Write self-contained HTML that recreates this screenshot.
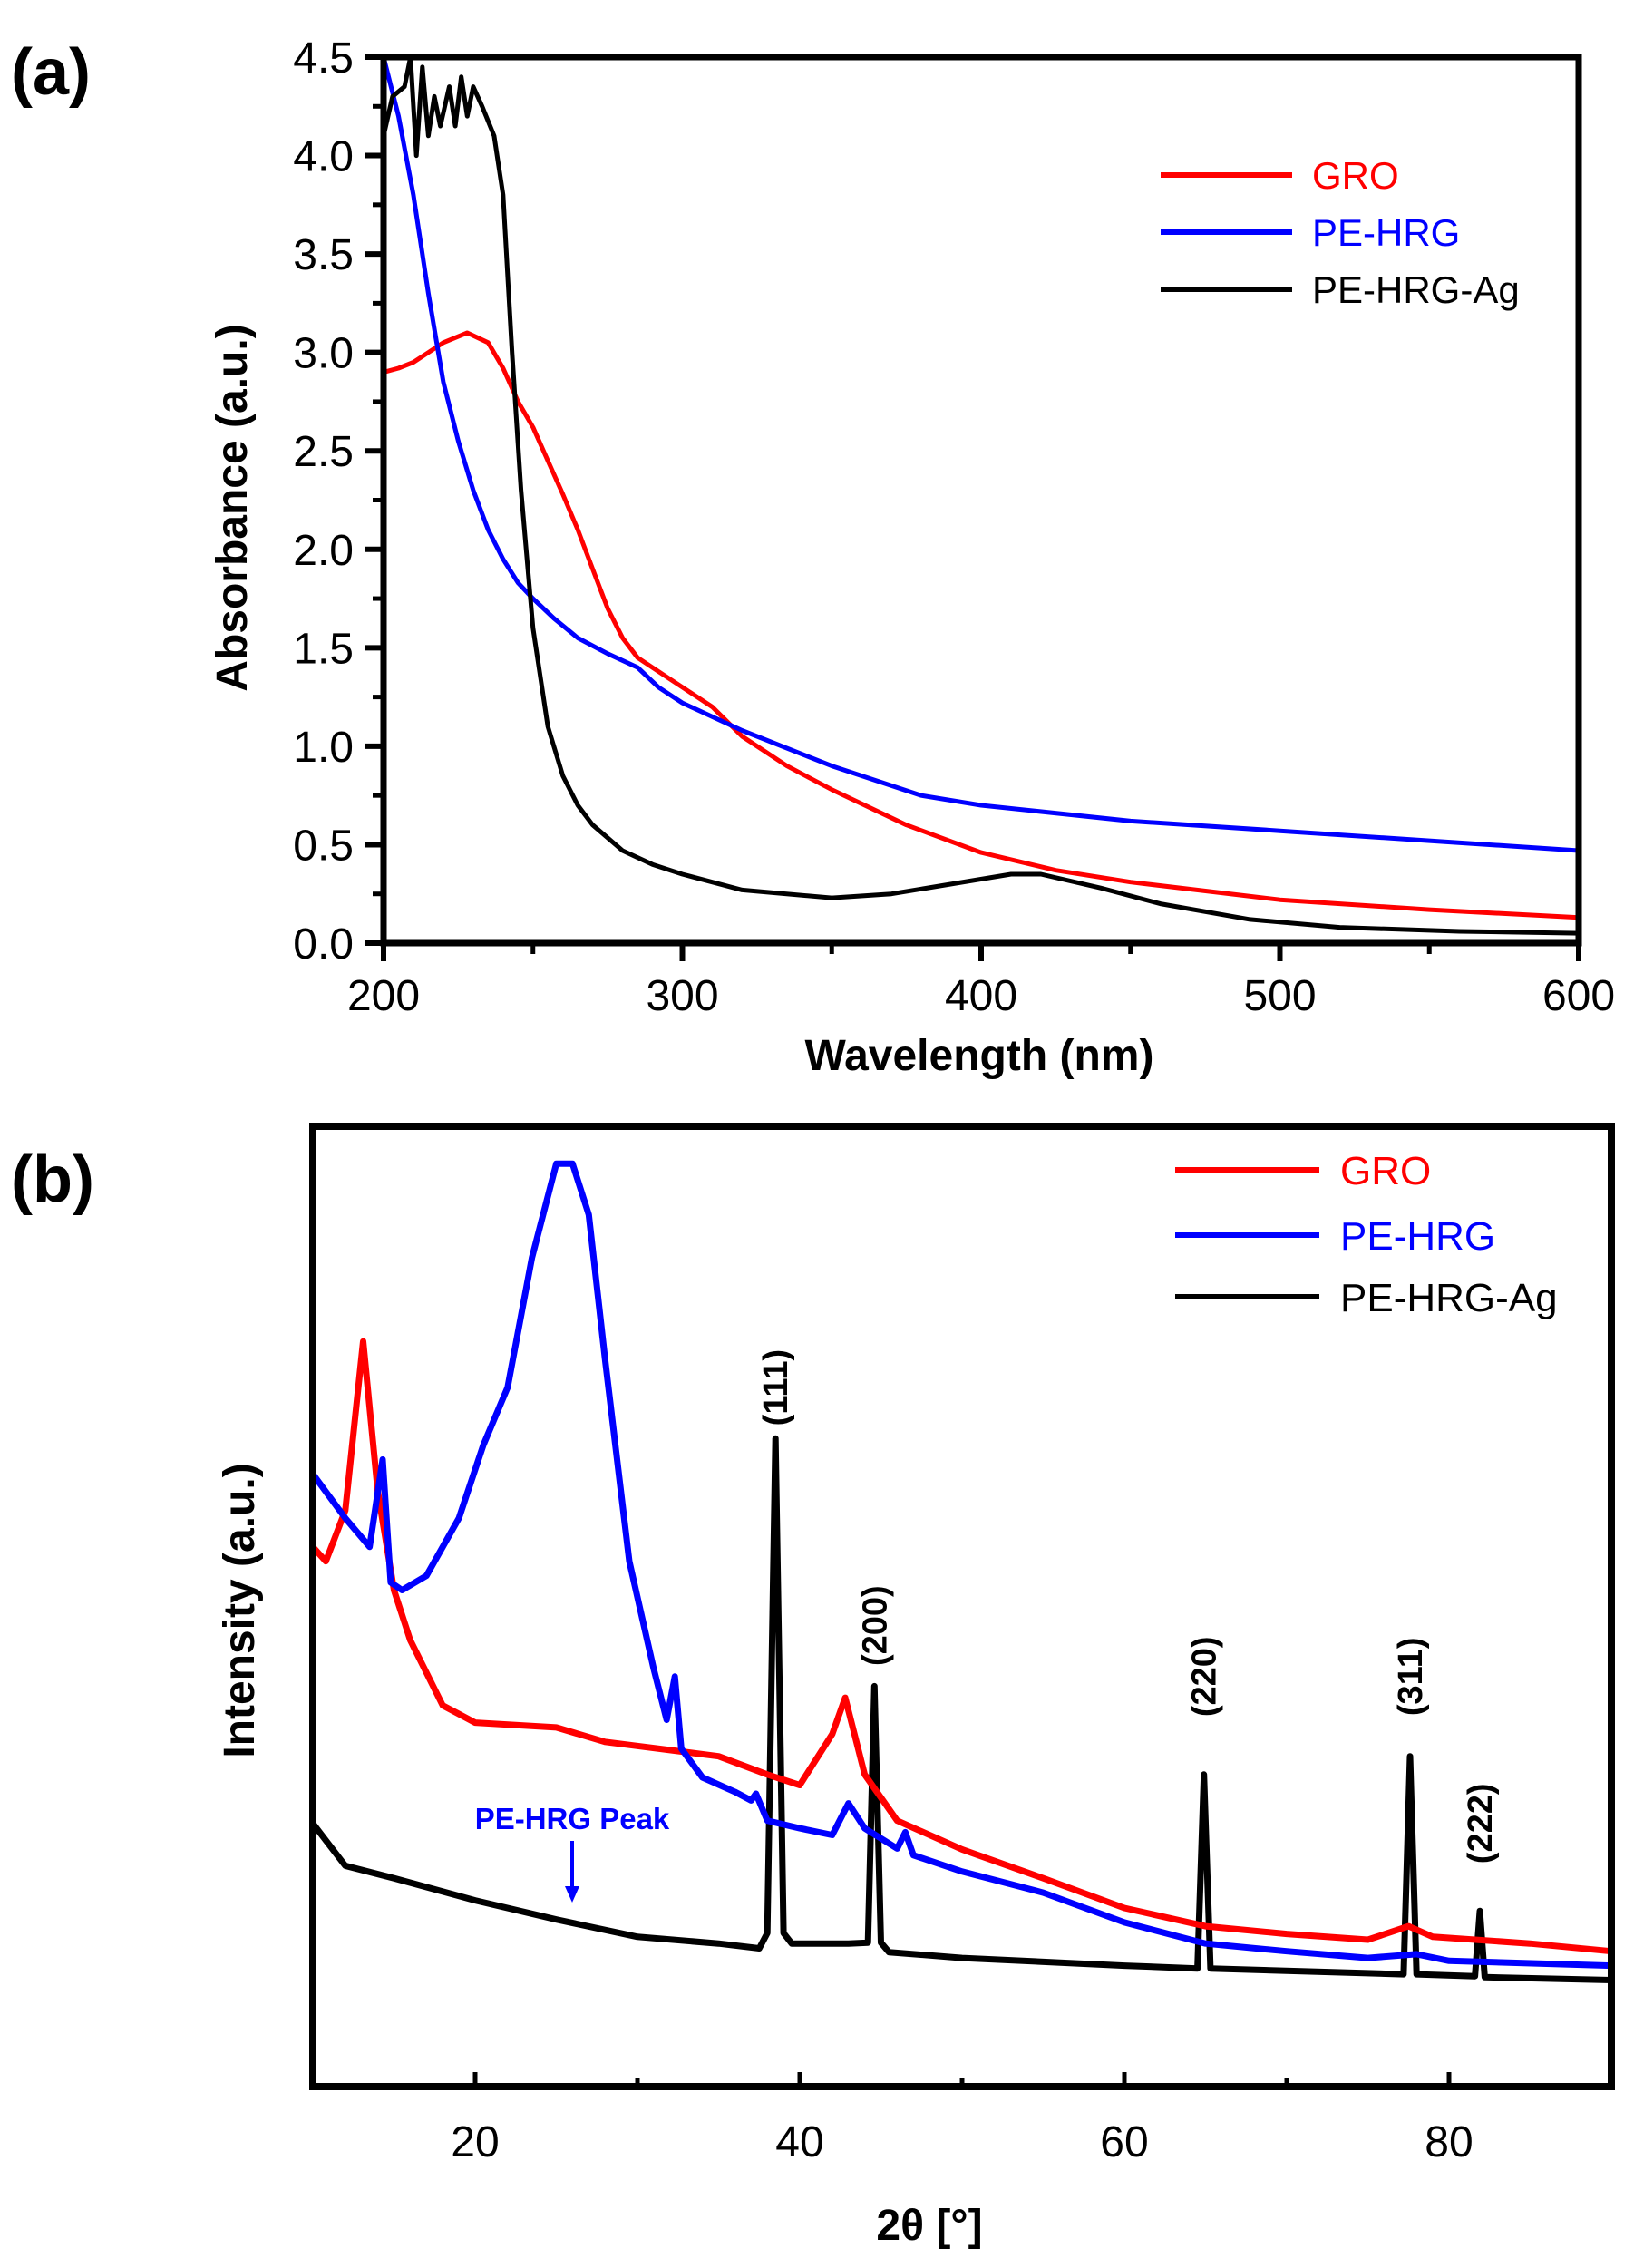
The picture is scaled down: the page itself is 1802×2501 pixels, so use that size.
<!DOCTYPE html>
<html><head><meta charset="utf-8"><style>
html,body{margin:0;padding:0;background:#fff}
svg{display:block}
text{font-family:"Liberation Sans",sans-serif}
</style></head><body>
<svg id="chart" width="1802" height="2501" viewBox="0 0 1802 2501">
<rect x="0" y="0" width="1802" height="2501" fill="#fff"/>
<g id="pa"></g>
<g id="pb"></g>
</svg>
<script>
// ---- Panel (a) data ----
const groX=[200,205,210,215,220,228,235,240,245,250,255,260,265,270,275,280,285,292,300,310,320,335,350,375,400,425,450,500,550,600];
const groY=[2.9,2.92,2.95,3.0,3.05,3.1,3.05,2.92,2.75,2.62,2.45,2.28,2.1,1.9,1.7,1.55,1.45,1.38,1.3,1.2,1.05,0.9,0.78,0.6,0.46,0.37,0.31,0.22,0.17,0.13];
const hrgX=[200,205,210,215,220,225,230,235,240,245,250,257,265,275,285,292,300,320,350,380,400,450,500,550,600];
const hrgY=[4.5,4.2,3.8,3.3,2.85,2.55,2.3,2.1,1.95,1.83,1.75,1.65,1.55,1.47,1.4,1.3,1.22,1.08,0.9,0.75,0.7,0.62,0.57,0.52,0.47];
const agX=[200,203,207,209,211,213,215,217,219,222,224,226,228,230,233,237,240,243,246,250,255,260,265,270,280,290,300,320,350,370,390,410,420,440,460,490,520,560,600];
const agY=[4.1,4.3,4.35,4.5,4.0,4.45,4.1,4.3,4.15,4.35,4.15,4.4,4.2,4.35,4.25,4.1,3.8,3.0,2.3,1.6,1.1,0.85,0.7,0.6,0.47,0.4,0.35,0.27,0.23,0.25,0.3,0.35,0.35,0.28,0.2,0.12,0.08,0.06,0.05];
const aXTicks=[200,300,400,500,600];
const aYTicks=[0,0.5,1,1.5,2,2.5,3,3.5,4,4.5];
// ---- Panel (b) data ----
const bGroX=[10,10.8,12,13.1,14,15,16,18,20,25,28,35,38,40,42,42.8,44,46,50,55,60,65,70,75,77.5,79,85,90];
const bGroY=[56.2,54.7,60,77.6,62,51.7,46.5,39.7,37.9,37.4,35.9,34.4,32.5,31.4,36.7,40.5,32.5,27.7,24.7,21.7,18.6,16.7,15.9,15.3,16.7,15.6,14.9,14.1];
const bHrgX=[10,12,13.5,14.3,14.8,15.5,17,19,20.5,22,23.5,25,26,27,28,29.5,31,31.8,32.3,32.7,34,36,37,37.3,38,40,42,43,44,46,46.5,47,50,55,60,65,70,75,78,80,90];
const bHrgY=[63.8,59.2,56.2,65.3,52.5,51.7,53.2,59.2,66.8,72.8,86.3,96.1,96.1,90.8,75.8,54.7,43.5,38.2,42.7,35.2,32.2,30.7,29.8,30.5,27.7,26.9,26.2,29.5,26.9,24.8,26.5,24.1,22.4,20.2,17.1,14.9,14.1,13.4,13.8,13.1,12.6];
const bAgX=[10,12,15,20,25,30,35,37.5,38.0,38.5,39.0,39.5,43,44.2,44.6,45.0,45.5,50,60,64.5,64.9,65.3,77.2,77.6,78.0,81.6,81.9,82.2,90];
const bAgY=[27.4,23,21.7,19.4,17.4,15.6,14.9,14.4,16,67.5,16,14.9,14.9,15,41.7,15,14,13.4,12.6,12.3,32.5,12.3,11.7,34.4,11.7,11.5,18.3,11.4,11.1];
const bXTicks=[20,40,60,80];
const peakLabels=["(111)","(200)","(220)","(311)","(222)"];
const peakPos=[38.5,44.6,64.9,77.6,81.9];
const peakLabelY=[72.8,48,42.7,42.7,27.4];

const NS="http://www.w3.org/2000/svg";
function mk(parent,tag,attrs,txt){const e=document.createElementNS(NS,tag);for(const k in attrs)e.setAttribute(k,attrs[k]);if(txt!==undefined)e.textContent=txt;parent.appendChild(e);return e;}

// Panel a
const pa=document.getElementById('pa');
const aL=423,aR=1741,aT=63,aB=1040;
const ax=v=>aL+(v-200)/400*(aR-aL);
const ay=v=>aB-v/4.5*(aB-aT);
function pts(xs,ys,fx,fy){return xs.map((x,i)=>fx(x).toFixed(1)+','+fy(ys[i]).toFixed(1)).join(' ');}
let e;
e=mk(pa,'polyline',{points:pts(groX,groY,ax,ay),fill:'none',stroke:'#f00','stroke-width':5,'stroke-linejoin':'round'});


e=mk(pa,'polyline',{points:pts(hrgX,hrgY,ax,ay),fill:'none',stroke:'#00f','stroke-width':5,'stroke-linejoin':'round'});


e=mk(pa,'polyline',{points:pts(agX,agY,ax,ay),fill:'none',stroke:'#000','stroke-width':5,'stroke-linejoin':'round'});


e=mk(pa,'rect',{x:aL,y:aT,width:aR-aL,height:aB-aT,fill:'none',stroke:'#000','stroke-width':7});


aXTicks.forEach((t,i)=>{
  mk(pa,'line',{x1:ax(t),x2:ax(t),y1:aB,y2:aB+20,stroke:'#000','stroke-width':6});
  if(i<aXTicks.length-1) mk(pa,'line',{x1:ax(t+50),x2:ax(t+50),y1:aB,y2:aB+12,stroke:'#000','stroke-width':5});
  e=mk(pa,'text',{x:ax(t),y:1114,'font-size':48,'text-anchor':'middle'},String(t));
  
  
});
aYTicks.forEach((t,i)=>{
  mk(pa,'line',{x1:aL-20,x2:aL,y1:ay(t),y2:ay(t),stroke:'#000','stroke-width':6});
  if(i<aYTicks.length-1) mk(pa,'line',{x1:aL-12,x2:aL,y1:ay(t+0.25),y2:ay(t+0.25),stroke:'#000','stroke-width':5});
  e=mk(pa,'text',{x:390,y:ay(t)+17,'font-size':48,'text-anchor':'end'},t.toFixed(1));
  
  
});
e=mk(pa,'text',{x:1080,y:1180,'font-size':48,'font-weight':'bold','text-anchor':'middle'},'Wavelength (nm)');


e=mk(pa,'text',{x:0,y:0,'font-size':48,'font-weight':'bold','text-anchor':'middle',transform:'translate(272,560) rotate(-90)'},'Absorbance (a.u.)');


e=mk(pa,'text',{x:12,y:104,'font-size':72,'font-weight':'bold','font-family':'Liberation Serif, serif'},'(a)');


[['GRO','#f00',193],['PE-HRG','#00f',256],['PE-HRG-Ag','#000',319]].forEach(l=>{
  mk(pa,'line',{x1:1280,x2:1425,y1:l[2],y2:l[2],stroke:l[1],'stroke-width':6});
  e=mk(pa,'text',{x:1447,y:l[2]+15,'font-size':42,fill:l[1]},l[0]);
  
  
});

// Panel b
const pb=document.getElementById('pb');
const bL=345,bR=1777,bT=1242,bB=2301;
const bx=v=>bL+(v-10)/80*(bR-bL);
const by=v=>bB-v/100*(bB-bT);
e=mk(pb,'polyline',{points:pts(bAgX,bAgY,bx,by),fill:'none',stroke:'#000','stroke-width':7,'stroke-linejoin':'round'});


e=mk(pb,'polyline',{points:pts(bGroX,bGroY,bx,by),fill:'none',stroke:'#f00','stroke-width':7,'stroke-linejoin':'round'});


e=mk(pb,'polyline',{points:pts(bHrgX,bHrgY,bx,by),fill:'none',stroke:'#00f','stroke-width':7,'stroke-linejoin':'round'});


e=mk(pb,'rect',{x:bL,y:bT,width:bR-bL,height:bB-bT,fill:'none',stroke:'#000','stroke-width':8});


for(let t=10;t<=90;t+=10){
  mk(pb,'line',{x1:bx(t),x2:bx(t),y1:bB,y2:bB-(t%20===0?16:10),stroke:'#000','stroke-width':5});
}
bXTicks.forEach(t=>{
  e=mk(pb,'text',{x:bx(t),y:2378,'font-size':48,'text-anchor':'middle'},String(t));
  
  
});
e=mk(pb,'text',{x:1025,y:2470,'font-size':48,'font-weight':'bold','text-anchor':'middle'},'2θ [°]');


e=mk(pb,'text',{x:0,y:0,'font-size':48,'font-weight':'bold','text-anchor':'middle',transform:'translate(280,1776) rotate(-90)'},'Intensity (a.u.)');


e=mk(pb,'text',{x:12,y:1325,'font-size':72,'font-weight':'bold','font-family':'Liberation Serif, serif'},'(b)');


[['GRO','#f00',1290],['PE-HRG','#00f',1362],['PE-HRG-Ag','#000',1430]].forEach(l=>{
  mk(pb,'line',{x1:1296,x2:1455,y1:l[2],y2:l[2],stroke:l[1],'stroke-width':6});
  e=mk(pb,'text',{x:1478,y:l[2]+16,'font-size':44,fill:l[1]},l[0]);
  
  
});
peakLabels.forEach((s,i)=>{
  e=mk(pb,'text',{x:0,y:0,'font-size':38,'font-weight':'bold','text-anchor':'middle',transform:`translate(${bx(peakPos[i])+13},${by(peakLabelY[i])}) rotate(-90)`},s);
  
  
});
e=mk(pb,'text',{x:631,y:2017,'font-size':33,'font-weight':'bold',fill:'#00f','text-anchor':'middle'},'PE-HRG Peak');


mk(pb,'line',{x1:631,x2:631,y1:2030,y2:2085,stroke:'#00f','stroke-width':4});
e=mk(pb,'polygon',{points:'623,2080 639,2080 631,2098',fill:'#00f'});


</script>
</body></html>
